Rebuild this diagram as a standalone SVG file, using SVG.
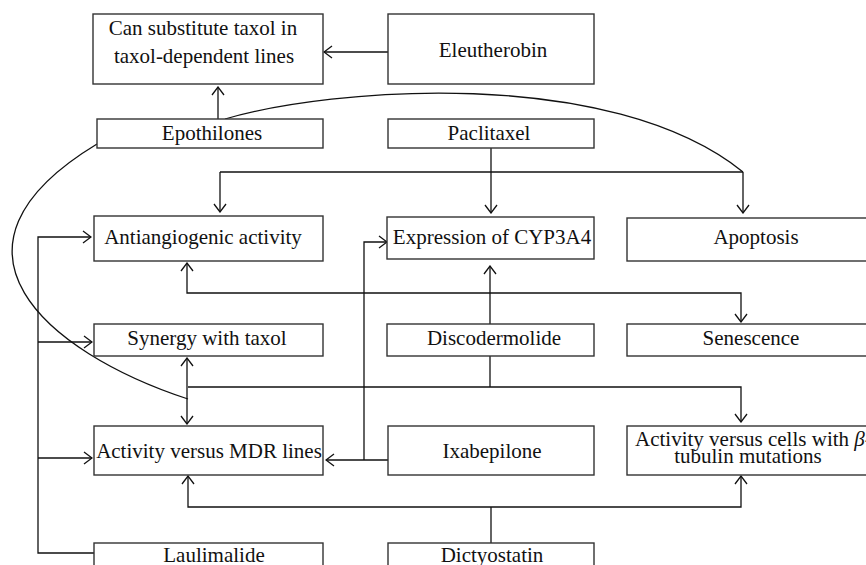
<svg xmlns="http://www.w3.org/2000/svg" width="866" height="565" viewBox="0 0 866 565">
<style>
.box{fill:#fff;stroke:#333;stroke-width:1.4}
.t{font-family:"Liberation Serif",serif;font-size:21px;fill:#111;text-anchor:middle}
.c{fill:none;stroke:#111;stroke-width:1.3}
.a{marker-end:url(#ah)}
.b{marker-start:url(#ah);marker-end:url(#ah)}
</style>
<defs>
<marker id="ah" viewBox="0 0 10 14" markerWidth="10" markerHeight="14" refX="9" refY="7" orient="auto-start-reverse" markerUnits="userSpaceOnUse">
<path d="M1,1 L9,7 L1,13" fill="none" stroke="#111" stroke-width="1.3"/>
</marker>
</defs>
<rect width="866" height="565" fill="#fff"/>
<g id="connectors">
<path class="c a" d="M388,52 L324,52"/>
<path class="c a" d="M218,119 L218,87"/>
<path class="c" d="M225,119 C330,88 610,65 743,172"/>
<path class="c" d="M220,172 L743,172"/>
<path class="c a" d="M220,172 L220,212"/>
<path class="c a" d="M743,172 L743,213"/>
<path class="c a" d="M491,148 L491,213"/>
<path class="c a" d="M490,324 L490,266"/>
<path class="c b" d="M187,263 L187,293 L741,293 L741,322"/>
<path class="c" d="M490,356 L490,387"/>
<path class="c a" d="M188,387 L741,387 L741,422"/>
<path class="c b" d="M187,358 L187,424"/>
<path class="c" d="M97,144 C-75,248 45,352 188,399"/>
<path class="c a" d="M94,553 L38,553 L38,237 L91,237"/>
<path class="c a" d="M38,342 L92,342"/>
<path class="c a" d="M38,458 L92,458"/>
<path class="c a" d="M388,460 L326,460"/>
<path class="c a" d="M364,460 L364,242 L387,242"/>
<path class="c" d="M491,543 L491,507"/>
<path class="c b" d="M188,476 L188,507 L741,507 L741,476"/>
</g>
<g id="n-substitute"><rect class="box" x="93" y="14" width="230" height="70"/><text class="t" x="203" y="35">Can substitute taxol in</text><text class="t" x="204" y="63">taxol-dependent lines</text></g>
<g id="n-eleutherobin"><rect class="box" x="388" y="14" width="206" height="70"/><text class="t" x="493" y="57">Eleutherobin</text></g>
<g id="n-epothilones"><rect class="box" x="97" y="119" width="226" height="29"/><text class="t" x="212" y="140">Epothilones</text></g>
<g id="n-paclitaxel"><rect class="box" x="388" y="119" width="206" height="29"/><text class="t" x="489" y="140">Paclitaxel</text></g>
<g id="n-antiangiogenic"><rect class="box" x="94" y="216" width="229" height="45"/><text class="t" x="203" y="244">Antiangiogenic activity</text></g>
<g id="n-cyp3a4"><rect class="box" x="387" y="217" width="207" height="42"/><text class="t" x="492" y="244">Expression of CYP3A4</text></g>
<g id="n-apoptosis"><rect class="box" x="627" y="218" width="260" height="43"/><text class="t" x="756" y="244">Apoptosis</text></g>
<g id="n-synergy"><rect class="box" x="94" y="324" width="229" height="32"/><text class="t" x="207" y="345">Synergy with taxol</text></g>
<g id="n-discodermolide"><rect class="box" x="387" y="324" width="207" height="32"/><text class="t" x="494" y="345">Discodermolide</text></g>
<g id="n-senescence"><rect class="box" x="627" y="324" width="260" height="32"/><text class="t" x="751" y="345">Senescence</text></g>
<g id="n-mdr"><rect class="box" x="94" y="426" width="229" height="49"/><text class="t" x="209" y="458">Activity versus MDR lines</text></g>
<g id="n-ixabepilone"><rect class="box" x="388" y="426" width="206" height="49"/><text class="t" x="492" y="458">Ixabepilone</text></g>
<g id="n-tubulin"><rect class="box" x="627" y="426" width="260" height="49"/><text class="t" x="635" y="446" style="text-anchor:start">Activity versus cells with <tspan font-style="italic">β</tspan>-</text><text class="t" x="748" y="463">tubulin mutations</text></g>
<g id="n-laulimalide"><rect class="box" x="94" y="543" width="229" height="40"/><text class="t" x="214" y="562">Laulimalide</text></g>
<g id="n-dictyostatin"><rect class="box" x="388" y="543" width="206" height="40"/><text class="t" x="492" y="562">Dictyostatin</text></g>
</svg>
